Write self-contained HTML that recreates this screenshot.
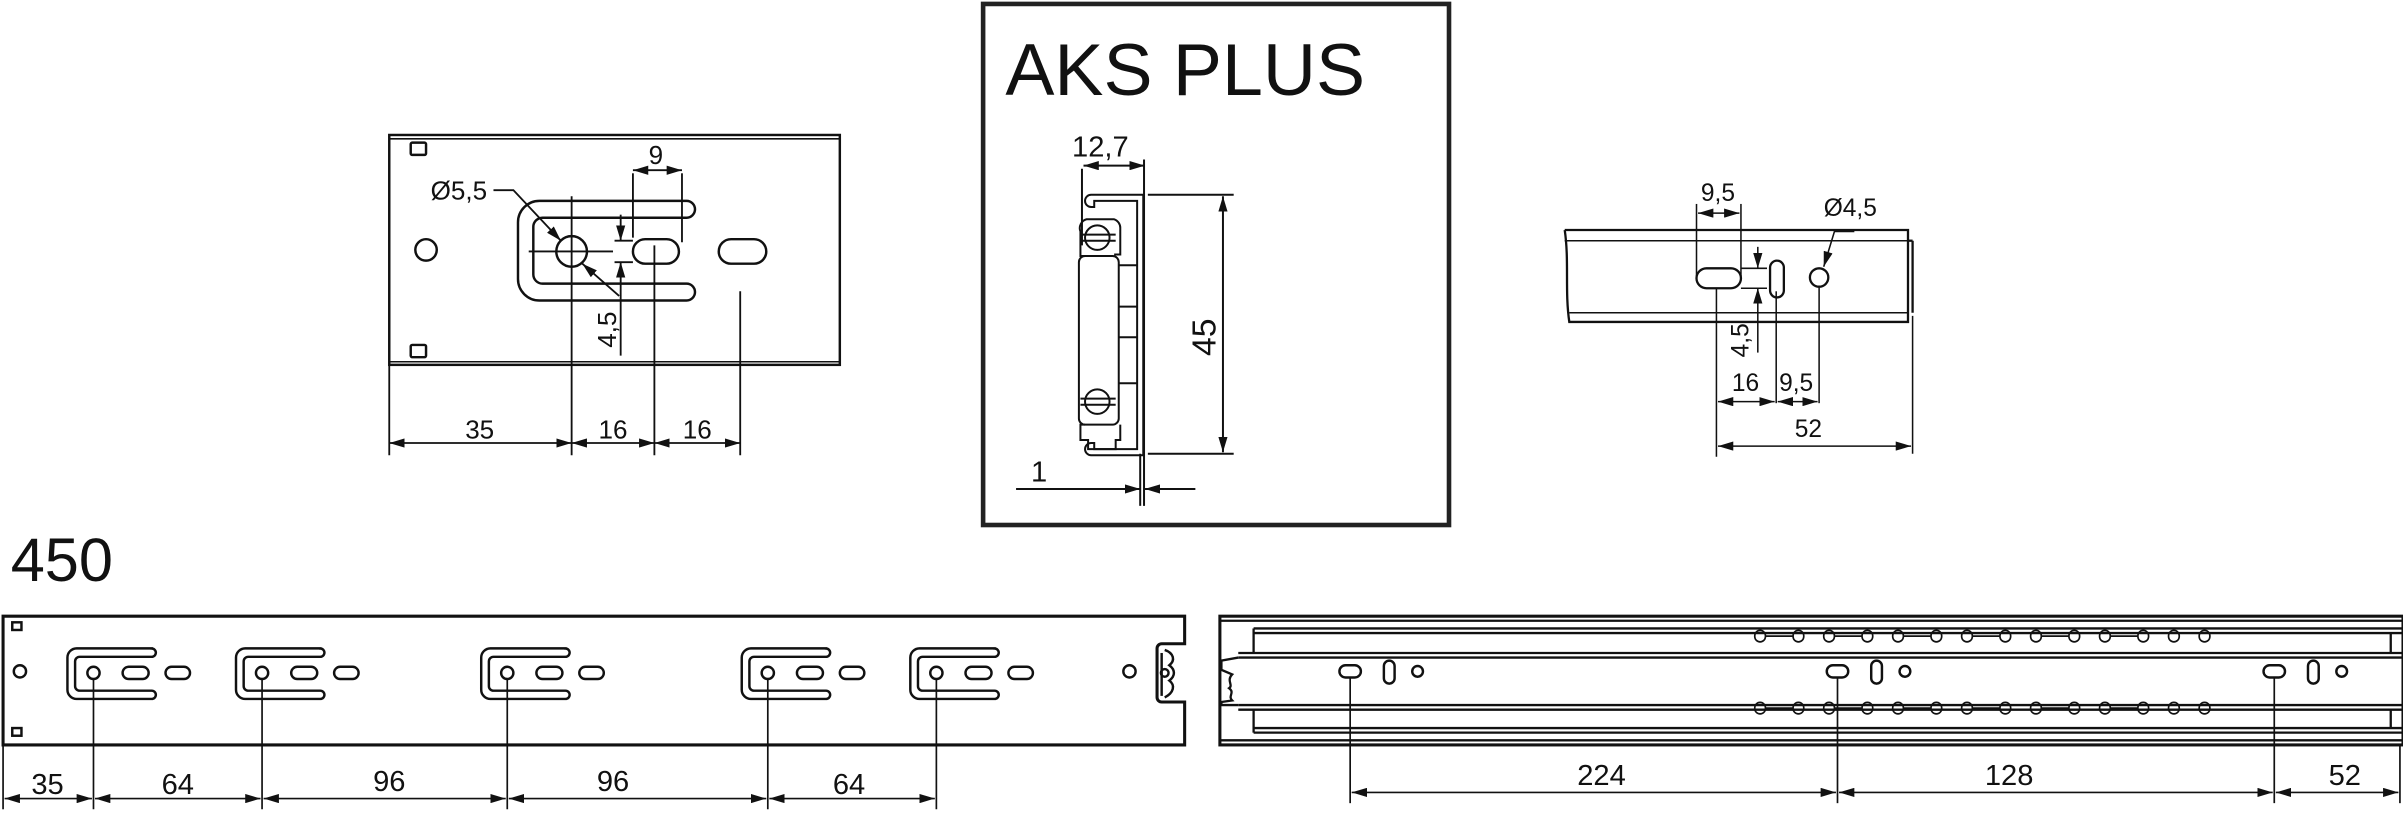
<!DOCTYPE html>
<html><head><meta charset="utf-8"><style>
html,body{margin:0;padding:0;background:#fff;}
svg{display:block}
text{font-family:"Liberation Sans",sans-serif;fill:#111}
</style></head><body>
<svg width="2403" height="814" viewBox="0 0 1568 531" xmlns="http://www.w3.org/2000/svg">
<defs>
<marker id="a" viewBox="0 0 10 6" refX="10" refY="3" markerWidth="10" markerHeight="6" orient="auto-start-reverse" markerUnits="userSpaceOnUse"><path d="M0,0L10,3L0,6z" fill="#111"/></marker>
<g id="brk" fill="none" stroke="#111" stroke-width="1.6">
<path d="M38,-16 H-11 a6,6 0 0 0 -6,6 V11 a6,6 0 0 0 6,6 H38 a2.7,2.7 0 0 0 0,-5.4 H-9 a3,3 0 0 1 -3,-3 V-7.5 a3,3 0 0 1 3,-3 H38 a2.7,2.7 0 0 0 0,-5.4z"/>
<circle cx="0" cy="0" r="4"/>
<rect x="19" y="-4" width="17" height="8" rx="4"/>
<rect x="47" y="-4" width="16" height="8" rx="4"/>
</g>
<g id="grp" fill="none" stroke="#111" stroke-width="1.6">
<rect x="-7" y="-4" width="14" height="8" rx="4"/>
<rect x="22" y="-7" width="7" height="15" rx="3.5"/>
<circle cx="44" cy="0" r="3.5"/>
</g>
</defs>

<!-- top-left plate -->
<g fill="none" stroke="#111" stroke-width="1.6">
<rect x="254" y="88" width="294" height="150"/>
<line x1="254" y1="90.5" x2="548" y2="90.5" stroke-width="1"/>
<line x1="254" y1="236" x2="548" y2="236" stroke-width="1"/>
<rect x="268" y="93" width="10" height="8" rx="1"/>
<rect x="268" y="225" width="10" height="8" rx="1"/>
<circle cx="278" cy="163" r="7"/>
<path d="M448,131 H352 a14,14 0 0 0 -14,14 V182 a14,14 0 0 0 14,14 H448 a5.5,5.5 0 0 0 0,-11 H354 a6,6 0 0 1 -6,-6 V148 a6,6 0 0 1 6,-6 H448 a5.5,5.5 0 0 0 0,-11z"/>
<circle cx="373" cy="164" r="10"/>
<rect x="413" y="156" width="30" height="16" rx="8"/>
<rect x="469" y="156" width="31" height="16" rx="8"/>
</g>
<g fill="none" stroke="#111" stroke-width="1.2">
<line x1="345" y1="164" x2="400" y2="164"/>
<line x1="373" y1="128" x2="373" y2="297"/>
<line x1="427" y1="160" x2="427" y2="297"/>
<line x1="483" y1="190" x2="483" y2="297"/>
<line x1="254" y1="238" x2="254" y2="297"/>
<line x1="413" y1="113" x2="413" y2="155"/><line x1="445" y1="113" x2="445" y2="158"/>
<line x1="413" y1="111" x2="445" y2="111" marker-start="url(#a)" marker-end="url(#a)"/>
<line x1="254" y1="289" x2="373" y2="289" marker-start="url(#a)" marker-end="url(#a)"/>
<line x1="373" y1="289" x2="427" y2="289" marker-start="url(#a)" marker-end="url(#a)"/>
<line x1="427" y1="289" x2="483" y2="289" marker-start="url(#a)" marker-end="url(#a)"/>
<line x1="401" y1="157" x2="413" y2="157"/><line x1="401" y1="171" x2="413" y2="171"/>
<line x1="405" y1="140" x2="405" y2="157" marker-end="url(#a)"/>
<line x1="405" y1="232" x2="405" y2="171" marker-end="url(#a)"/>
<polyline points="322,124 335,124 366,157" marker-end="url(#a)"/>
<line x1="404" y1="193" x2="380" y2="172" marker-end="url(#a)"/>
</g>
<text x="428" y="107" font-size="17" text-anchor="middle">9</text>
<text x="281" y="130" font-size="17">Ø5,5</text>
<text x="313" y="286" font-size="17" text-anchor="middle">35</text>
<text x="400" y="286" font-size="17" text-anchor="middle">16</text>
<text x="455" y="286" font-size="17" text-anchor="middle">16</text>
<text x="0" y="0" font-size="17" text-anchor="middle" transform="translate(402,215) rotate(-90)">4,5</text>

<!-- center box -->
<rect x="641.5" y="2.5" width="304" height="340" fill="none" stroke="#222" stroke-width="3"/>
<text x="656" y="62" font-size="48">AKS PLUS</text>
<g fill="none" stroke="#111" stroke-width="1.3">
<line x1="707" y1="108" x2="747" y2="108" marker-start="url(#a)" marker-end="url(#a)"/>
<line x1="706" y1="110" x2="706" y2="160"/><line x1="746.5" y1="104" x2="746.5" y2="330"/>
<line x1="744" y1="330" x2="744" y2="296"/>
<path d="M746,127 H712 a2.5,2.5 0 0 0 0,8 h2 v-4 H742 V293 H714 v-4 h-2 a2.5,2.5 0 0 0 0,8 H746z"/>
<rect x="704" y="167" width="26" height="110" rx="4"/>
<path d="M708,167 h-3 v-16 a6,6 0 0 1 4,-8 h18 a6,6 0 0 1 4,6 V166 h-4"/>
<path d="M708,277 h-3 v10 h5 v6 h18 v-6 h3 v-10"/>
<circle cx="716" cy="155" r="8"/><line x1="705" y1="153" x2="728" y2="153"/><line x1="705" y1="157" x2="728" y2="157"/>
<circle cx="716" cy="262" r="8"/><line x1="705" y1="260" x2="728" y2="260"/><line x1="705" y1="264" x2="728" y2="264"/>
<line x1="730" y1="173" x2="742" y2="173"/><line x1="730" y1="200" x2="742" y2="200"/><line x1="730" y1="220" x2="742" y2="220"/><line x1="730" y1="250" x2="742" y2="250"/>
<line x1="749" y1="127" x2="805" y2="127"/><line x1="749" y1="296" x2="805" y2="296"/>
<line x1="798" y1="128" x2="798" y2="295" marker-start="url(#a)" marker-end="url(#a)"/>
<line x1="663" y1="319" x2="744" y2="319" marker-end="url(#a)"/>
<line x1="780" y1="319" x2="747" y2="319" marker-end="url(#a)"/>
</g>
<text x="718" y="102" font-size="19" text-anchor="middle">12,7</text>
<text x="678" y="314" font-size="19" text-anchor="middle">1</text>
<text x="0" y="0" font-size="22" text-anchor="middle" transform="translate(793,220) rotate(-90)">45</text>

<!-- right detail -->
<g fill="none" stroke="#111" stroke-width="1.5">
<path d="M1021,150 H1245 V210 H1024 C1021,190 1024,170 1021,150"/>
<line x1="1021" y1="157" x2="1245" y2="157" stroke-width="1"/>
<line x1="1024" y1="204" x2="1245" y2="204" stroke-width="1"/>
<line x1="1245" y1="157" x2="1248" y2="157"/><line x1="1248" y1="157" x2="1248" y2="204"/>
<rect x="1107" y="175" width="29" height="13" rx="6.5"/>
<rect x="1155" y="170" width="9" height="24" rx="4.5"/>
<circle cx="1187" cy="181" r="6"/>
</g>
<g fill="none" stroke="#111" stroke-width="1">
<line x1="1107" y1="133" x2="1107" y2="180"/><line x1="1136" y1="133" x2="1136" y2="180"/>
<line x1="1108" y1="139" x2="1135" y2="139" marker-start="url(#a)" marker-end="url(#a)"/>
<line x1="1136" y1="175" x2="1153" y2="175"/><line x1="1136" y1="188" x2="1153" y2="188"/>
<line x1="1147" y1="161" x2="1147" y2="175" marker-end="url(#a)"/>
<line x1="1147" y1="230" x2="1147" y2="188" marker-end="url(#a)"/>
<polyline points="1210,151 1197,151 1190,174" marker-end="url(#a)"/>
<line x1="1120" y1="188" x2="1120" y2="298"/><line x1="1159" y1="190" x2="1159" y2="263"/>
<line x1="1187" y1="187" x2="1187" y2="263"/><line x1="1248" y1="206" x2="1248" y2="296"/>
<line x1="1121" y1="262" x2="1158" y2="262" marker-start="url(#a)" marker-end="url(#a)"/>
<line x1="1160" y1="262" x2="1186" y2="262" marker-start="url(#a)" marker-end="url(#a)"/>
<line x1="1121" y1="291" x2="1247" y2="291" marker-start="url(#a)" marker-end="url(#a)"/>
</g>
<text x="1121" y="131" font-size="16" text-anchor="middle">9,5</text>
<text x="1190" y="141" font-size="16">Ø4,5</text>
<text x="1139" y="255" font-size="16" text-anchor="middle">16</text>
<text x="1172" y="255" font-size="16" text-anchor="middle">9,5</text>
<text x="1180" y="285" font-size="16" text-anchor="middle">52</text>
<text x="0" y="0" font-size="16" text-anchor="middle" transform="translate(1141,222) rotate(-90)">4,5</text>

<!-- 450 -->
<text x="7" y="379" font-size="40">450</text>

<!-- bottom-left rail -->
<g fill="none" stroke="#111" stroke-width="1.6">
<path d="M2,402 H773 V420 H758 a3,3 0 0 0 -3,3 V455 a3,3 0 0 0 3,3 H773 V486 H2z" stroke-width="2"/>
<path d="M760,424 c6,2 7,7 3,10 c4,3 4,7 0,10 c4,3 3,8 -3,11" />
<line x1="758" y1="426" x2="758" y2="454"/>
<circle cx="760" cy="439" r="2.5"/>
<rect x="8" y="406" width="6" height="5"/><rect x="8" y="475" width="6" height="5"/>
<circle cx="13" cy="438" r="4"/>
<circle cx="737" cy="438" r="4"/>
</g>
<use href="#brk" x="61" y="439"/>
<use href="#brk" x="171" y="439"/>
<use href="#brk" x="331" y="439"/>
<use href="#brk" x="501" y="439"/>
<use href="#brk" x="611" y="439"/>
<g fill="none" stroke="#111" stroke-width="1.1">
<line x1="2" y1="486" x2="2" y2="528"/>
<line x1="61" y1="443" x2="61" y2="528"/><line x1="171" y1="443" x2="171" y2="528"/>
<line x1="331" y1="443" x2="331" y2="528"/><line x1="501" y1="443" x2="501" y2="528"/>
<line x1="611" y1="443" x2="611" y2="528"/>
<line x1="3" y1="521" x2="60" y2="521" marker-start="url(#a)" marker-end="url(#a)"/>
<line x1="62" y1="521" x2="170" y2="521" marker-start="url(#a)" marker-end="url(#a)"/>
<line x1="172" y1="521" x2="330" y2="521" marker-start="url(#a)" marker-end="url(#a)"/>
<line x1="332" y1="521" x2="500" y2="521" marker-start="url(#a)" marker-end="url(#a)"/>
<line x1="502" y1="521" x2="610" y2="521" marker-start="url(#a)" marker-end="url(#a)"/>
</g>
<text x="31" y="518" font-size="19" text-anchor="middle">35</text>
<text x="116" y="518" font-size="19" text-anchor="middle">64</text>
<text x="254" y="516" font-size="19" text-anchor="middle">96</text>
<text x="400" y="516" font-size="19" text-anchor="middle">96</text>
<text x="554" y="518" font-size="19" text-anchor="middle">64</text>

<!-- bottom-right rail -->
<g fill="none" stroke="#111" stroke-width="1.5">
<rect x="796" y="402" width="772" height="84" stroke-width="2"/>
<line x1="796" y1="405" x2="1568" y2="405"/>
<line x1="796" y1="483" x2="1568" y2="483"/>
<line x1="818" y1="410" x2="1568" y2="410"/><line x1="818" y1="413" x2="1568" y2="413"/>
<line x1="818" y1="410" x2="818" y2="426"/>
<line x1="808" y1="426" x2="1568" y2="426"/><line x1="808" y1="429" x2="1568" y2="429"/>
<line x1="808" y1="460" x2="1568" y2="460"/><line x1="808" y1="463" x2="1568" y2="463"/>
<line x1="818" y1="463" x2="818" y2="478"/>
<line x1="818" y1="475" x2="1568" y2="475"/><line x1="818" y1="478" x2="1568" y2="478"/>
<path d="M808,429 L797,431 L797,437 L804,440 C800,444 805,447 802,449 C806,452 801,454 804,457 L797,458 L797,460 L808,460"/>
<path d="M1560,413 V426 M1560,463 V475"/>
</g>
<g fill="none" stroke="#111" stroke-width="1.1">
<path d="M1145,415 c0,-5 7,-5 7,0 c0,5 -7,5 -7,0 M1170,415 c0,-5 7,-5 7,0 c0,5 -7,5 -7,0 M1152,415 H1170 M1190,415 c0,-5 7,-5 7,0 c0,5 -7,5 -7,0 M1215,415 c0,-5 7,-5 7,0 c0,5 -7,5 -7,0 M1197,415 H1215 M1235,415 c0,-5 7,-5 7,0 c0,5 -7,5 -7,0 M1260,415 c0,-5 7,-5 7,0 c0,5 -7,5 -7,0 M1242,415 H1260 M1280,415 c0,-5 7,-5 7,0 c0,5 -7,5 -7,0 M1305,415 c0,-5 7,-5 7,0 c0,5 -7,5 -7,0 M1287,415 H1305 M1325,415 c0,-5 7,-5 7,0 c0,5 -7,5 -7,0 M1350,415 c0,-5 7,-5 7,0 c0,5 -7,5 -7,0 M1332,415 H1350 M1370,415 c0,-5 7,-5 7,0 c0,5 -7,5 -7,0 M1395,415 c0,-5 7,-5 7,0 c0,5 -7,5 -7,0 M1377,415 H1395 M1415,415 c0,-5 7,-5 7,0 c0,5 -7,5 -7,0 M1435,415 c0,-5 7,-5 7,0 c0,5 -7,5 -7,0"/>
<path transform="translate(0,47)" d="M1145,415 c0,-5 7,-5 7,0 c0,5 -7,5 -7,0 M1170,415 c0,-5 7,-5 7,0 c0,5 -7,5 -7,0 M1152,415 H1170 M1190,415 c0,-5 7,-5 7,0 c0,5 -7,5 -7,0 M1215,415 c0,-5 7,-5 7,0 c0,5 -7,5 -7,0 M1197,415 H1215 M1235,415 c0,-5 7,-5 7,0 c0,5 -7,5 -7,0 M1260,415 c0,-5 7,-5 7,0 c0,5 -7,5 -7,0 M1242,415 H1260 M1280,415 c0,-5 7,-5 7,0 c0,5 -7,5 -7,0 M1305,415 c0,-5 7,-5 7,0 c0,5 -7,5 -7,0 M1287,415 H1305 M1325,415 c0,-5 7,-5 7,0 c0,5 -7,5 -7,0 M1350,415 c0,-5 7,-5 7,0 c0,5 -7,5 -7,0 M1332,415 H1350 M1370,415 c0,-5 7,-5 7,0 c0,5 -7,5 -7,0 M1395,415 c0,-5 7,-5 7,0 c0,5 -7,5 -7,0 M1377,415 H1395 M1415,415 c0,-5 7,-5 7,0 c0,5 -7,5 -7,0 M1435,415 c0,-5 7,-5 7,0 c0,5 -7,5 -7,0"/>
</g>
<use href="#grp" x="881" y="438"/>
<use href="#grp" x="1199" y="438"/>
<use href="#grp" x="1484" y="438"/>
<g fill="none" stroke="#111" stroke-width="1.1">
<line x1="881" y1="442" x2="881" y2="524"/><line x1="1199" y1="442" x2="1199" y2="524"/>
<line x1="1484" y1="442" x2="1484" y2="524"/><line x1="1566" y1="486" x2="1566" y2="524"/>
<line x1="882" y1="517" x2="1198" y2="517" marker-start="url(#a)" marker-end="url(#a)"/>
<line x1="1200" y1="517" x2="1483" y2="517" marker-start="url(#a)" marker-end="url(#a)"/>
<line x1="1485" y1="517" x2="1565" y2="517" marker-start="url(#a)" marker-end="url(#a)"/>
</g>
<text x="1045" y="512" font-size="19" text-anchor="middle">224</text>
<text x="1311" y="512" font-size="19" text-anchor="middle">128</text>
<text x="1530" y="512" font-size="19" text-anchor="middle">52</text>
</svg>
</body></html>
